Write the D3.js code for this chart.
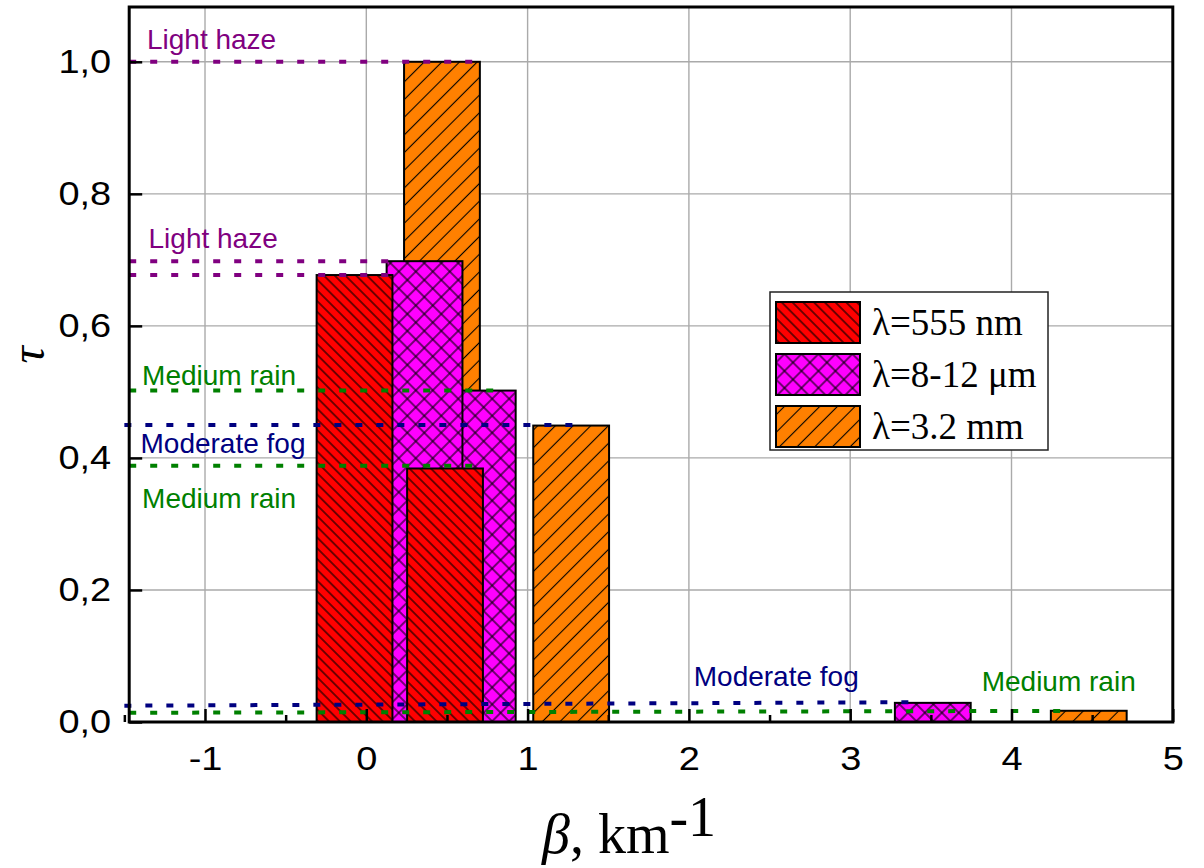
<!DOCTYPE html>
<html>
<head>
<meta charset="utf-8">
<script src="https://cdn.jsdelivr.net/npm/d3@7"></script>
<style>
  body { margin: 0; background: #fff; }
  svg { display: block; }
</style>
</head>
<body>
<div id="chart"></div>
<script>
// Bars: centre on the beta axis and optical depth tau, one array per wavelength
const redX = [-0.073, 0.488];
const redY = [0.677, 0.384];
const magentaX = [0.691, 0.361, 3.512];
const magentaY = [0.502, 0.698, 0.029];
const orangeX = [0.469, 1.270, 4.479];
const orangeY = [1.0, 0.449, 0.017];
const barWidth = 0.47;

// Dotted reference lines: start x, end x, y at start, y at end
const refStartX = [-1.47, -1.47, -1.47, -1.47, -1.5, -1.47, -1.5, -1.47];
const refEndX = [0.705, 0.153, 0.165, 0.80, 1.28, 0.68, 3.38, 4.32];
const refY1 = [1.0, 0.698, 0.677, 0.502, 0.45, 0.388, 0.0247, 0.0140];
const refY2 = [1.0, 0.698, 0.677, 0.502, 0.45, 0.388, 0.030, 0.0168];
const refKind = ["haze", "haze", "haze", "rain", "fog", "rain", "fog", "rain"];

// Condition labels
const labelText = ["Light haze", "Light haze", "Medium rain", "Moderate fog", "Medium rain", "Moderate fog", "Medium rain"];
const labelKind = ["haze", "haze", "rain", "fog", "rain", "fog", "rain"];
const labelX = [-1.36, -1.35, -1.39, -1.40, -1.39, 2.03, 3.815];
const labelY = [1.02, 0.718, 0.51, 0.408, 0.324, 0.054, 0.047];

const legendLabels = ["λ=555 nm", "λ=8-12 μm", "λ=3.2 mm"];
const xTicks = [-1, 0, 1, 2, 3, 4, 5];
const xMinor = [-1.5, -0.5, 0.5, 1.5, 2.5, 3.5, 4.5];
const yTicks = [0, 0.2, 0.4, 0.6, 0.8, 1.0];

const kindColor = { haze: "#800080", rain: "#008000", fog: "#000080" };

const width = 1204;
const height = 868;

const svg = d3.select("#chart").append("svg")
  .attr("width", width)
  .attr("height", height);

const x = d3.scaleLinear().domain([-1.47, 5.0]).range([129.2, 1172.8]);
const y = d3.scaleLinear().domain([0, 1.083]).range([722, 7]);

// Hatch patterns (tile rotated 45 deg; "h" -> "\" lines, "v" -> "/" lines)
const defs = svg.append("defs");
function hatch(id, fill, s, dirs) {
  const p = defs.append("pattern")
    .attr("id", id)
    .attr("patternUnits", "userSpaceOnUse")
    .attr("width", s)
    .attr("height", s)
    .attr("patternTransform", "rotate(45)");
  p.append("rect").attr("x", -1).attr("y", -1).attr("width", s + 2).attr("height", s + 2).attr("fill", fill);
  dirs.forEach((d) => {
    const l = p.append("line").attr("stroke", "#000").attr("stroke-width", 1.1);
    if (d === "h") l.attr("x1", 0).attr("x2", s).attr("y1", s / 2).attr("y2", s / 2);
    else l.attr("y1", 0).attr("y2", s).attr("x1", s / 2).attr("x2", s / 2);
  });
}
hatch("hRed", "#ff0000", 7.6, ["h"]);
hatch("hMag", "#ff00ff", 12, ["h", "v"]);
hatch("hOra", "#ff8000", 12.5, ["v"]);

// Grid
const grid = svg.append("g");
grid.selectAll(".gx").data(xTicks.slice(0, -1)).join("line")
  .attr("x1", (d) => x(d)).attr("x2", (d) => x(d))
  .attr("y1", y.range()[0]).attr("y2", y.range()[1])
  .attr("stroke", "#aaa").attr("stroke-width", 1.4);
grid.selectAll(".gy").data(yTicks.slice(1)).join("line")
  .attr("x1", x.range()[0]).attr("x2", x.range()[1])
  .attr("y1", (d) => y(d)).attr("y2", (d) => y(d))
  .attr("stroke", "#aaa").attr("stroke-width", 1.4);

// Bars, drawn orange -> magenta -> red (red sits on top)
function drawBars(xs, ys, fill) {
  svg.append("g").selectAll("rect")
    .data(xs.map((v, i) => ({ x: v, y: ys[i] })))
    .join("rect")
    .attr("x", (d) => x(d.x - barWidth / 2))
    .attr("width", (d) => x(d.x + barWidth / 2) - x(d.x - barWidth / 2))
    .attr("y", (d) => y(d.y))
    .attr("height", (d) => y(0) - y(d.y))
    .attr("fill", fill)
    .attr("stroke", "#000")
    .attr("stroke-width", 2);
}
drawBars(orangeX, orangeY, "url(#hOra)");
drawBars(magentaX, magentaY, "url(#hMag)");
drawBars(redX, redY, "url(#hRed)");

// Dotted reference lines
svg.append("g").selectAll("line")
  .data(refStartX.map((v, i) => ({ x1: v, x2: refEndX[i], y1: refY1[i], y2: refY2[i], k: refKind[i] })))
  .join("line")
  .attr("x1", (d) => x(d.x1)).attr("x2", (d) => x(d.x2))
  .attr("y1", (d) => y(d.y1)).attr("y2", (d) => y(d.y2))
  .attr("stroke", (d) => kindColor[d.k])
  .attr("stroke-width", 4)
  .attr("stroke-dasharray", "7,14");

// Condition labels
svg.append("g").selectAll("text")
  .data(labelText.map((t, i) => ({ t, k: labelKind[i], x: labelX[i], y: labelY[i] })))
  .join("text")
  .attr("x", (d) => x(d.x))
  .attr("y", (d) => y(d.y))
  .attr("fill", (d) => kindColor[d.k])
  .style("font-family", "Arial, 'Liberation Sans', sans-serif")
  .style("font-size", "28px")
  .text((d) => d.t);

// Frame
svg.append("rect")
  .attr("x", x.range()[0]).attr("y", y.range()[1])
  .attr("width", x.range()[1] - x.range()[0])
  .attr("height", y.range()[0] - y.range()[1])
  .attr("fill", "none").attr("stroke", "#000").attr("stroke-width", 3);

// Axes with inward ticks
const xAxis = svg.append("g")
  .attr("transform", `translate(0,${y(0)})`)
  .call(d3.axisBottom(x).tickValues(xTicks).tickSizeInner(-13).tickSizeOuter(0).tickPadding(25).tickFormat(d3.format("d")));
svg.append("g")
  .attr("transform", `translate(0,${y(0)})`)
  .call(d3.axisBottom(x).tickValues(xMinor).tickSizeInner(-7).tickSizeOuter(0).tickFormat(""))
  .call((g) => g.select(".domain").remove())
  .call((g) => g.selectAll(".tick line").attr("stroke", "#000").attr("stroke-width", 2.5));
const yAxis = svg.append("g")
  .attr("transform", `translate(${x.range()[0]},0)`)
  .call(d3.axisLeft(y).tickValues(yTicks).tickSizeInner(-13).tickSizeOuter(0).tickPadding(18)
    .tickFormat((d) => d3.format(".1f")(d).replace(".", ",")));

const stretch = 1.15;
[xAxis, yAxis].forEach((g) => {
  g.select(".domain").remove();
  g.selectAll(".tick line").attr("stroke", "#000").attr("stroke-width", 2.5);
  g.selectAll(".tick text")
    .attr("fill", "#000")
    .style("font-family", "Arial, 'Liberation Sans', sans-serif")
    .style("font-size", "33px")
    .attr("transform", `scale(${stretch},1)`);
});
xAxis.selectAll(".tick text").text((d) => (d < 0 ? "-" + Math.abs(d) : d));
yAxis.selectAll(".tick text").attr("x", -18 / stretch);

// Axis titles
svg.append("text")
  .attr("transform", `translate(44,355) rotate(-90)`)
  .attr("text-anchor", "middle")
  .style("font-family", "'Liberation Serif', 'Times New Roman', serif")
  .style("font-style", "italic")
  .style("font-size", "48px")
  .text("τ");

const xt = svg.append("text")
  .attr("x", 542).attr("y", 853)
  .style("font-family", "'Liberation Serif', 'Times New Roman', serif")
  .style("font-size", "56px");
xt.append("tspan").style("font-style", "italic").text("β");
xt.append("tspan").text(", km");
xt.append("tspan").attr("dy", -17).text("-1");

// Legend
const lg = svg.append("g").attr("transform", "translate(770,292)");
lg.append("rect").attr("width", 278).attr("height", 158)
  .attr("fill", "#fff").attr("stroke", "#222").attr("stroke-width", 1.5);
const fills = ["url(#hRed)", "url(#hMag)", "url(#hOra)"];
const items = lg.selectAll(".item").data(legendLabels).join("g")
  .attr("transform", (d, i) => `translate(6,${10 + i * 52})`);
items.append("rect").attr("width", 84).attr("height", 41)
  .attr("fill", (d, i) => fills[i]).attr("stroke", "#000").attr("stroke-width", 2);
items.append("text").attr("x", 96).attr("y", 33)
  .style("font-family", "'Liberation Serif', 'Times New Roman', serif")
  .style("font-size", "37px")
  .text((d) => d);
</script>
</body>
</html>
